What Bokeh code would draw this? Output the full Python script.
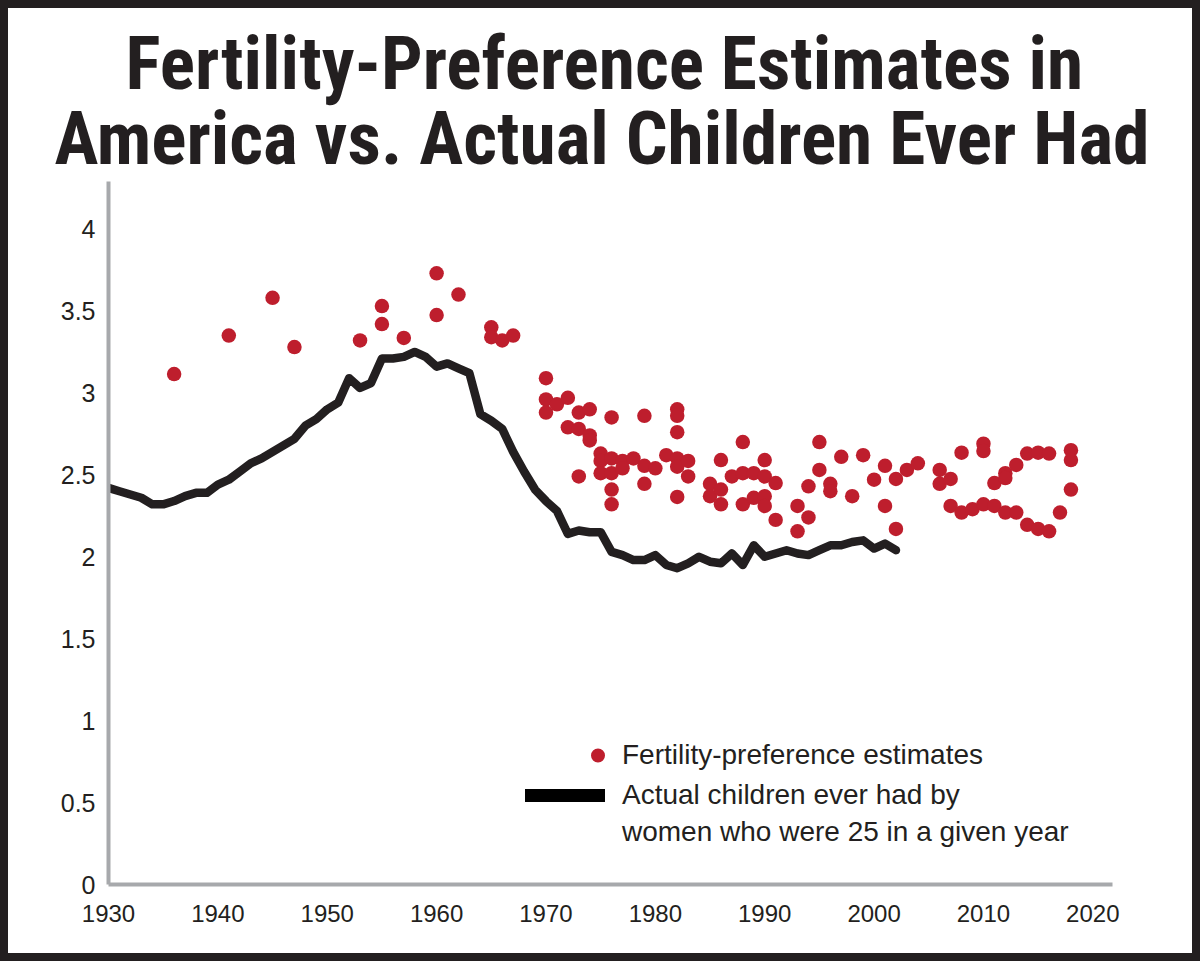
from bokeh.plotting import figure
from bokeh.models import (Range1d, FixedTicker, CustomJSTickFormatter, Title,
                          Legend, LegendItem)
from bokeh.core.properties import value
from bokeh.embed import file_html
from bokeh.resources import INLINE

# ---------------- data ----------------
actual_years = list(range(1930, 2003))
actual_values = [
    2.42, 2.40, 2.38, 2.36, 2.32, 2.32, 2.34, 2.37, 2.39, 2.39,   # 1930-39
    2.44, 2.47, 2.52, 2.57, 2.60, 2.64, 2.68, 2.72, 2.80, 2.84,   # 1940-49
    2.90, 2.94, 3.09, 3.03, 3.06, 3.21, 3.21, 3.22, 3.25, 3.22,   # 1950-59
    3.16, 3.18, 3.15, 3.12, 2.87, 2.83, 2.78, 2.64, 2.52, 2.41,   # 1960-69
    2.34, 2.28, 2.14, 2.16, 2.15, 2.15, 2.03, 2.01, 1.98, 1.98,   # 1970-79
    2.01, 1.95, 1.93, 1.96, 2.00, 1.97, 1.96, 2.02, 1.95, 2.07,   # 1980-89
    2.00, 2.02, 2.04, 2.02, 2.01, 2.04, 2.07, 2.07, 2.09, 2.10,   # 1990-99
    2.05, 2.08, 2.04,                                             # 2000-02
]

pref_years = [
    1936, 1941, 1945, 1947, 1953, 1955, 1955, 1957, 1960, 1960,
    1962, 1965, 1965, 1966, 1967,
    1970, 1970, 1970, 1971, 1972, 1972, 1973, 1973, 1973,
    1974, 1974, 1974, 1975, 1975, 1975,
    1976, 1976, 1976, 1976, 1976, 1977, 1977, 1978,
    1979, 1979, 1979, 1980, 1981,
    1982, 1982, 1982, 1982, 1982, 1982, 1983, 1983,
    1985, 1985, 1986, 1986, 1986, 1987, 1988, 1988, 1988,
    1989, 1989, 1990, 1990, 1990, 1990, 1991, 1991,
    1993, 1993, 1994, 1994, 1995, 1995, 1996, 1996, 1997, 1998, 1999,
    2000, 2001, 2001, 2002, 2002, 2003, 2004,
    2006, 2006, 2007, 2007, 2008, 2008, 2009, 2010, 2010, 2010,
    2011, 2011, 2012, 2012, 2012, 2013, 2013, 2014, 2014,
    2015, 2015, 2016, 2016, 2017, 2018, 2018, 2018,
]
pref_values = [
    3.115, 3.35, 3.58, 3.28, 3.32, 3.53, 3.42, 3.335, 3.73, 3.475,
    3.60, 3.40, 3.34, 3.32, 3.35,
    3.09, 2.96, 2.88, 2.93, 2.97, 2.79, 2.88, 2.78, 2.49,
    2.90, 2.74, 2.71, 2.63, 2.585, 2.51,
    2.85, 2.60, 2.51, 2.41, 2.32, 2.585, 2.54, 2.60,
    2.86, 2.555, 2.445, 2.54, 2.62,
    2.90, 2.86, 2.76, 2.60, 2.55, 2.365, 2.585, 2.49,
    2.445, 2.37, 2.59, 2.41, 2.32, 2.49, 2.70, 2.51, 2.32,
    2.51, 2.36, 2.59, 2.49, 2.37, 2.31, 2.45, 2.225,
    2.31, 2.155, 2.43, 2.24, 2.70, 2.53, 2.445, 2.40, 2.61, 2.37, 2.62,
    2.47, 2.555, 2.31, 2.475, 2.17, 2.53, 2.57,
    2.53, 2.445, 2.475, 2.31, 2.635, 2.27, 2.29, 2.69, 2.645, 2.32,
    2.45, 2.31, 2.51, 2.48, 2.27, 2.56, 2.27, 2.63, 2.195,
    2.635, 2.17, 2.63, 2.155, 2.27, 2.65, 2.59, 2.41,
]

x_ticks = [1930, 1940, 1950, 1960, 1970, 1980, 1990, 2000, 2010, 2020]
y_ticks = [0, 0.5, 1, 1.5, 2, 2.5, 3, 3.5, 4]

title_line1 = "Fertility-Preference Estimates in"
title_line2 = "America vs. Actual Children Ever Had"
legend_dots = "Fertility-preference estimates"
legend_line_1 = "Actual children ever had by"
legend_line_2 = "women who were 25 in a given year"

INK = "#231f20"
RED = "#be1e2d"
AXIS = "#a7a9ac"
FONT = "Liberation Sans"
TITLE_FONT = "'Roboto Condensed', 'Liberation Sans Narrow', 'DejaVu Sans Condensed', Roboto"

NAN = float("nan")

# ---------------- figure ----------------
p = figure(width=1184, height=945, output_backend="svg", toolbar_location=None,
           x_range=Range1d(1930, 2021.8), y_range=Range1d(0, 4.29),
           min_border_left=100, min_border_right=80,
           min_border_top=173, min_border_bottom=69,
           background_fill_color="white", border_fill_color="white",
           margin=(8, 8, 8, 8),
           styles={"outline": "8px solid #231f20"})
p.outline_line_color = None
p.grid.visible = False

p.add_layout(Title(text=title_line2, align="left", text_font=TITLE_FONT,
                   text_font_style="bold", text_font_size="73.5px",
                   text_color=INK, standoff=-1, offset=-54), "above")
p.add_layout(Title(text=title_line1, align="left", text_font=TITLE_FONT,
                   text_font_style="bold", text_font_size="73.5px",
                   text_color=INK, standoff=-25, offset=17), "above")

fmt = CustomJSTickFormatter(code="return tick.toString();")
for ax, ticks in ((p.xaxis[0], x_ticks), (p.yaxis[0], y_ticks)):
    ax.ticker = FixedTicker(ticks=ticks)
    ax.formatter = fmt
    ax.axis_line_color = AXIS
    ax.axis_line_width = 4
    ax.major_tick_line_color = None
    ax.minor_tick_line_color = None
    ax.major_label_text_font = FONT
    ax.major_label_text_color = INK
p.xaxis[0].major_label_text_font_size = "24px"
p.yaxis[0].major_label_text_font_size = "25px"
p.xaxis[0].major_label_standoff = 14
p.yaxis[0].major_label_standoff = 7

line_r = p.line(actual_years, actual_values, line_width=8.5, line_color=INK,
                line_join="round", line_cap="round")
dots_r = p.scatter(pref_years, pref_values, size=14.5, fill_color=RED,
                   line_color=None)

# legend helpers (NaN data: nothing is drawn in the plot, only legend glyphs)
leg_line = p.line(x=[NAN], y=[NAN], line_width=13, line_color="black",
                  line_cap="round")
leg_blank = p.line(x=[NAN], y=[NAN], line_alpha=0)

common = dict(padding=0, margin=0, border_line_alpha=0, background_fill_alpha=0,
              label_text_font=FONT, label_text_font_size="28px",
              label_text_color=INK, glyph_height=36, label_height=36,
              spacing=0)

lg_a = Legend(items=[LegendItem(label=value(legend_dots), renderers=[dots_r])],
              location=(472, 111), glyph_width=35, label_standoff=7, **common)
lg_b = Legend(items=[LegendItem(label=value(legend_line_1), renderers=[leg_line])],
              location=(417, 71), glyph_width=80, label_standoff=17, **common)
lg_c = Legend(items=[LegendItem(label=value(legend_line_2), renderers=[leg_blank])],
              location=(417, 34), glyph_width=80, label_standoff=17, **common)
for lg in (lg_a, lg_b, lg_c):
    p.add_layout(lg, "center")

open("out.html", "w").write(file_html(p, INLINE))
